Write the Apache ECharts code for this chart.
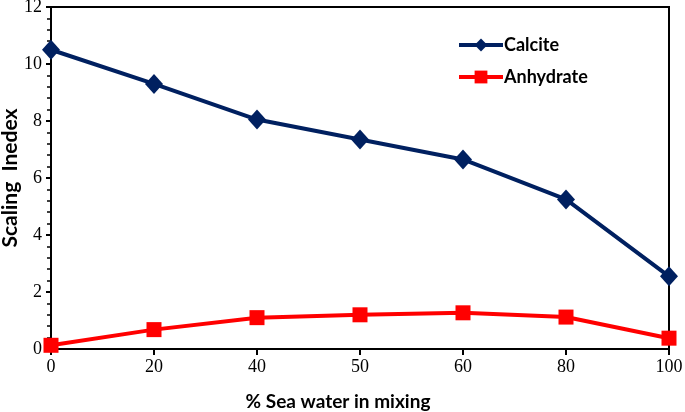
<!DOCTYPE html>
<html><head><meta charset="utf-8">
<script src="https://cdn.jsdelivr.net/npm/echarts@6/dist/echarts.min.js"></script>
<style>html,body{margin:0;padding:0;background:#fff}#c{width:685px;height:412px}</style>
</head><body><div id="c"></div>
<script>
const categories = ['0','20','40','50','60','80','100'];
const calcite = [10.5, 9.3, 8.05, 7.35, 6.65, 5.25, 2.55];
const anhydrate = [0.13, 0.68, 1.1, 1.2, 1.27, 1.12, 0.38];
const chart = echarts.init(document.getElementById('c'));
chart.setOption({
  animation: false,
  grid: {left: 51, right: 16, top: 7, bottom: 63, containLabel: false, outerBoundsMode: 'none',
         show: true, borderColor: '#000', borderWidth: 2, backgroundColor: 'transparent'},
  legend: {
    orient: 'vertical', left: 452, top: 31, itemGap: 14, itemWidth: 44, itemHeight: 16,
    lineStyle: {width: 4},
    textStyle: {fontFamily: 'Lato', fontWeight: 'bold', fontSize: 18, color: '#000', padding: [0,0,0,-4]},
    data: ['Calcite', 'Anhydrate']
  },
  xAxis: {
    type: 'category', data: categories, boundaryGap: false,
    name: '% Sea water in mixing', nameLocation: 'middle', nameGap: 43, nameMoveOverlap: false,
    nameTextStyle: {fontFamily: 'Lato', fontWeight: 'bold', fontSize: 19, color: '#000', padding: [0, 44, 0, 0]},
    axisLine: {lineStyle: {color: '#000', width: 2}},
    axisTick: {show: true, alignWithLabel: true, length: 6, lineStyle: {color: '#000', width: 2}},
    axisLabel: {fontFamily: 'Liberation Serif', fontSize: 18, color: '#000', margin: 9},
    splitLine: {show: false}
  },
  yAxis: {
    type: 'value', min: 0, max: 12, interval: 2,
    name: 'Scaling  Inedex', nameLocation: 'middle', nameGap: 30, nameMoveOverlap: false,
    nameTextStyle: {fontFamily: 'Lato', fontWeight: 'bold', fontSize: 21, color: '#000'},
    axisLine: {show: true, lineStyle: {color: '#000', width: 2}},
    axisTick: {show: true, length: 5, lineStyle: {color: '#000', width: 2}},
    minorTick: {show: true, splitNumber: 5, length: 4, lineStyle: {color: '#000', width: 1.5}},
    axisLabel: {fontFamily: 'Liberation Serif', fontSize: 18, color: '#000', margin: 9},
    splitLine: {show: false}
  },
  series: [
    {name: 'Calcite', type: 'line', data: calcite, symbol: 'diamond', symbolSize: [18, 20],
     lineStyle: {color: '#002060', width: 4}, itemStyle: {color: '#002060'}},
    {name: 'Anhydrate', type: 'line', data: anhydrate, symbol: 'rect', symbolSize: 15,
     lineStyle: {color: '#ff0000', width: 4}, itemStyle: {color: '#ff0000'}}
  ]
});
</script></body></html>
